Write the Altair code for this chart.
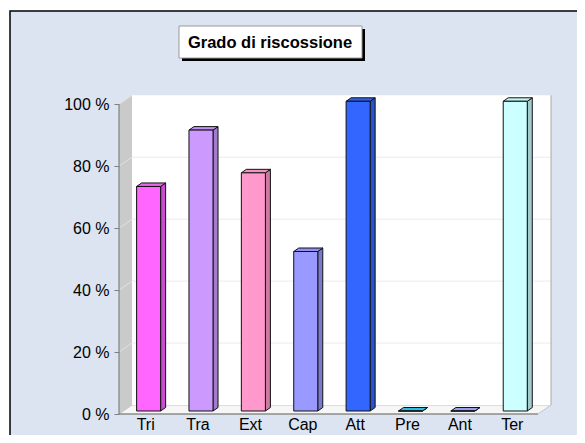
import json
import altair as alt
import pandas as pd

# ---------------- data ----------------
cats = ["Tri", "Tra", "Ext", "Cap", "Att", "Pre", "Ant", "Ter"]
values = [72.5, 90.7, 76.9, 51.5, 100.0, 0.0, 0.0, 100.0]
front_colors = ["#ff66ff", "#cc99ff", "#ff99cc", "#9999ff", "#3366ff", "#33c4ea", "#9aa8ee", "#ccffff"]
side_colors = ["#c94fd0", "#a37acc", "#cc7aa3", "#7a7acc", "#2952cc", "#2a9cbb", "#7b86bf", "#a3cccc"]
top_colors = ["#ee66ee", "#c290f5", "#f590c2", "#9090f5", "#3060f0", "#30bce0", "#94a0e8", "#c2f5f5"]
y_ticks = [0, 20, 40, 60, 80, 100]
grid_vals = [20, 40, 60, 80, 100]
title_text = "Grado di riscossione"

# ---------------- layout constants ----------------
N = len(cats)
PAD_L, PAD_T = 111, 87
W, H = 432, 319
SVG_W, SVG_H = 569, 427
XMAX = 8.248
YMAX = 103.0
PXX = W / XMAX
PXY = H / YMAX
DXW = 13 / PXX      # wall depth (x units)
DYW = 9 / PXY       # wall depth (y units)
DXB = 5 / PXX       # bar depth
DYB = 3.5 / PXY
BASE = 3 / PXY
BL, BR = 0.336, 0.795

xsc = alt.Scale(domain=[0, XMAX], nice=False, zero=False)
ysc = alt.Scale(domain=[0, YMAX], nice=False, zero=False)

label_expr = json.dumps(cats) + "[floor(datum.value)]"
x_axis = alt.Axis(values=[i + 0.5 for i in range(N)], labelExpr=label_expr,
                  domain=False, grid=False, ticks=False, labelFontSize=16,
                  labelFont="Liberation Sans", labelColor="#000000",
                  labelPadding=2, labelFlush=False, labelOverlap=False, title=None,
                  zindex=1)
y_axis = alt.Axis(values=y_ticks, labelExpr="datum.value + ' %'", domain=False,
                  grid=False, ticks=True, tickSize=5, tickColor="#808080",
                  labelFontSize=16, labelFont="Liberation Sans", labelColor="#000000",
                  labelPadding=5, title=None, labelOverlap=False, labelFlush=False,
                  zindex=1)


def X(f):
    return alt.X(f, type="quantitative", scale=xsc, axis=x_axis)


def Y(f):
    return alt.Y(f, type="quantitative", scale=ysc, axis=y_axis)


dummy = pd.DataFrame({"k": [0]})

# background panel with frame (page frame at x=10, y=11)
bg = alt.Chart(dummy).mark_rect(fill="#dbe4f0", stroke="#000000", strokeWidth=1.5).encode(
    x=alt.value(10 - 8 - PAD_L), x2=alt.value(SVG_W + 20 - PAD_L),
    y=alt.value(11 - 8 - PAD_T), y2=alt.value(SVG_H + 20 - PAD_T)
)

# left side wall (parallelogram)
side_wall_df = pd.DataFrame({"x": [0, DXW], "yt": [100, 100 + DYW], "yb": [0, DYW]})
side_wall = alt.Chart(side_wall_df).mark_area(color="#cacaca", orient="vertical").encode(
    x=X("x"), y=Y("yt"), y2="yb"
)

# floor
floor_df = pd.DataFrame({"y": [0, DYW], "xl": [0, DXW], "xr": [N, N + DXW]})
floor = alt.Chart(floor_df).mark_area(fill="#f6f6f6", stroke="#c4c4c4", strokeWidth=1,
                                      orient="horizontal").encode(
    y=Y("y"), x=X("xl"), x2="xr"
)

# back wall
wall_df = pd.DataFrame({"x0": [DXW], "x1": [N + DXW], "y0": [DYW], "y1": [100 + DYW]})
wall = alt.Chart(wall_df).mark_rect(fill="#ffffff").encode(
    x=X("x0"), x2="x1", y=Y("y0"), y2="y1"
)

grid_df = pd.DataFrame({
    "g": grid_vals,
    "gy": [g + DYW for g in grid_vals],
    "x0": [DXW] * len(grid_vals),
    "x1": [N + DXW] * len(grid_vals),
    "sx0": [0] * len(grid_vals),
})
grid = alt.Chart(grid_df[grid_df.g < 100]).mark_rule(color="#ebebeb", strokeWidth=1).encode(
    x=X("x0"), x2="x1", y=Y("gy")
)
side_grid = alt.Chart(grid_df).mark_rule(color="#e2e2e2", strokeWidth=1).encode(
    x=X("sx0"), y=Y("g"), x2="x0", y2="gy"
)

right_edge_df = pd.DataFrame({"x": [N + DXW], "y0": [DYW], "y1": [100 + DYW]})
right_edge = alt.Chart(right_edge_df).mark_rule(color="#a8a8a8", strokeWidth=1).encode(
    x=X("x"), y=Y("y0"), y2="y1"
)

# axis lines
yaxis_df = pd.DataFrame({"x": [0], "y0": [0], "y1": [100]})
yaxis = alt.Chart(yaxis_df).mark_rule(color="#707070", strokeWidth=1).encode(
    x=X("x"), y=Y("y0"), y2="y1",
)
xaxis_df = pd.DataFrame({"x0": [0], "x1": [N], "y": [0]})
xaxis = alt.Chart(xaxis_df).mark_rule(color="#707070", strokeWidth=1).encode(
    x=X("x0"), x2="x1", y=Y("y"),
)

# bars
front_rows, side_rows, top_rows = [], [], []
for i, (c, v) in enumerate(zip(cats, values)):
    x0, x1 = i + BL, i + BR
    front_rows.append({"cat": c, "x0": x0, "x1": x1, "y0": BASE, "y1": v + BASE,
                       "c": front_colors[i]})
    side_rows.append({"cat": c, "x": x1, "yt": v + BASE, "yb": BASE, "c": side_colors[i]})
    side_rows.append({"cat": c, "x": x1 + DXB, "yt": v + BASE + DYB, "yb": BASE + DYB,
                      "c": side_colors[i]})
    top_rows.append({"cat": c, "y": v + BASE, "xl": x0, "xr": x1, "c": top_colors[i]})
    top_rows.append({"cat": c, "y": v + BASE + DYB, "xl": x0 + DXB, "xr": x1 + DXB,
                     "c": top_colors[i]})

sides = alt.Chart(pd.DataFrame(side_rows)).mark_area(
    orient="vertical", stroke="#111111", strokeWidth=1, strokeJoin="miter"
).encode(x=X("x"), y=Y("yt"), y2="yb", detail="cat:N", color=alt.Color("c:N", scale=None))

tops = alt.Chart(pd.DataFrame(top_rows)).mark_area(
    orient="horizontal", stroke="#111111", strokeWidth=1, strokeJoin="miter"
).encode(y=Y("y"), x=X("xl"), x2="xr", detail="cat:N", color=alt.Color("c:N", scale=None))

fronts = alt.Chart(pd.DataFrame(front_rows)).mark_rect(
    stroke="#111111", strokeWidth=1
).encode(x=X("x0"), x2="x1", y=Y("y0"), y2="y1", color=alt.Color("c:N", scale=None))

# title box (page coords: x 179..362, y 26..58)
OX, OY = 8 + PAD_L, 8 + PAD_T
shadow = alt.Chart(dummy).mark_rect(fill="#000000").encode(
    x=alt.value(182 - OX), x2=alt.value(365 - OX), y=alt.value(29 - OY), y2=alt.value(61 - OY)
)
box = alt.Chart(dummy).mark_rect(fill="#ffffff", stroke="#9a9a9a", strokeWidth=1).encode(
    x=alt.value(179 - OX), x2=alt.value(362 - OX), y=alt.value(26 - OY), y2=alt.value(58 - OY)
)
ttext = alt.Chart(dummy).mark_text(
    font="Liberation Sans", fontSize=16.5, fontWeight="bold", color="#000000",
    align="center", baseline="middle"
).encode(x=alt.value(270 - OX), y=alt.value(42.5 - OY), text=alt.value(title_text))

chart = alt.layer(
    bg, side_wall, floor, wall, grid, side_grid, right_edge, yaxis, xaxis,
    sides, tops, fronts, shadow, box, ttext
).properties(
    width=W, height=H,
    autosize=alt.AutoSizeParams(type="none"),
    padding={"left": PAD_L, "top": PAD_T, "right": SVG_W - PAD_L - W,
             "bottom": SVG_H - PAD_T - H},
    background="#ffffff",
).configure_view(stroke=None)

chart.save("out.html", embed_options={"renderer": "svg", "actions": False})
